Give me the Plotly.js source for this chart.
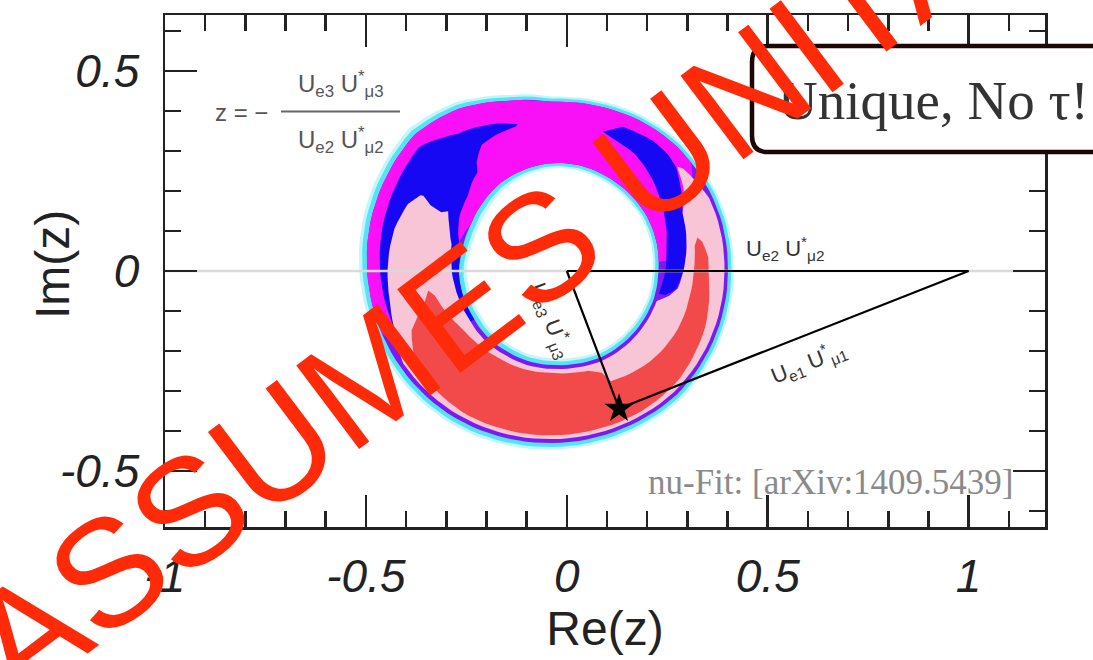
<!DOCTYPE html>
<html>
<head>
<meta charset="utf-8">
<script src="https://cdn.plot.ly/plotly-3.0.1.min.js"></script>
<style>html,body{margin:0;padding:0;background:#fff;}#chart{width:1093px;height:660px;}</style>
</head>
<body>
<div id="chart"></div>
<script>
// ---------------- data ----------------
const xRange = [-1.0, 1.19];
const yRange = [-0.64, 0.64];
const xTickVals = [-1, -0.5, 0, 0.5, 1];
const xTickText = ['-1', '-0.5', '0', '0.5', '1'];
const yTickVals = [-0.5, 0, 0.5];
const yTickText = ['-0.5', '0', '0.5'];

// unitarity triangle: 0 -> 1 -> best fit z -> 0
const triangleRe = [0, 1, 0.13, 0];
const triangleIm = [0, 0, -0.344, 0];
const bestFitRe = [0.13];
const bestFitIm = [-0.344];

// ring (allowed region of z) : centre and inner / outer edge radius every 15 degrees
const ringCenter = [-0.037, 0.0];
const bandAngles = [0,15,30,45,60,75,90,105,120,135,150,165,180,195,210,225,240,255,270,285,300,315,330,345];
const bandOuterR = [0.438,0.44,0.44,0.44,0.435,0.428,0.423,0.44,0.468,0.483,0.475,0.468,0.46,0.453,0.448,0.443,0.438,0.433,0.43,0.43,0.433,0.438,0.438,0.438];
const bandInnerR = [0.265,0.27,0.273,0.273,0.273,0.273,0.27,0.263,0.255,0.243,0.233,0.23,0.232,0.23,0.228,0.23,0.23,0.233,0.235,0.24,0.248,0.253,0.258,0.263];

// coloured regions: angle (deg) and relative position across the band (0 = inner edge, 1 = outer edge)
const glowTheta   = [0, 360, 360, 0];
const glowU       = [1.085, 1.085, -0.085, -0.085];
const haloTheta   = [0, 360, 360, 0];
const haloU       = [1.05, 1.05, -0.05, -0.05];
const edgeTheta   = [0, 360, 360, 0];
const edgeU       = [1.0, 1.0, 0.0, 0.0];
const magentaTheta = [38, 200, 205, 205, 165, 150, 5, 5];
const magentaU     = [1.0, 1.0, 0.92, 0.06, 0.06, 0.0, 0.0, 0.1];
const blueLeftTheta = [103,110,124,137,154,177,200,212, 212,170,150,138,130,127,124.5,119,112,104];
const blueLeftU     = [0.65,0.7,0.74,0.88,0.87,0.86,0.85,0.8, 0.0,0.0,0.14,0.17,0.24,0.26,0.36,0.5,0.56,0.62];
const blueRightTheta = [70,64,52,45,40,30,24,10,0,-8,-12, -12,0,10,24,35,45,55,64];
const blueRightU     = [0.62,0.8,0.84,0.82,0.78,0.6,0.5,0.42,0.36,0.28,0.15, 0.05,0.1,0.12,0.22,0.32,0.42,0.52,0.56];
const pinkTheta = [150,155,165,177,190,200,212,240,270,300,330,360,385,398, 400,392,384,370,360,352,348,344,300,270,240,210,190,178,165,156,150,152,151.5,149.5];
const pinkU     = [0.6,0.68,0.74,0.77,0.8,0.85,0.95,0.95,0.95,0.95,0.95,0.95,0.95,0.85, 0.8,0.68,0.5,0.42,0.36,0.3,0.2,0.05,0.05,0.05,0.05,0.05,0.06,0.08,0.12,0.2,0.27,0.33,0.46,0.57];
const redTheta = [189,195,203,215,240,270,300,320,340,355,365,371,373, 370,360,350,335,320,305,298,296,290,270,240,225,213,200,192];
const redU     = [0.36,0.45,0.68,0.85,0.9,0.9,0.9,0.88,0.82,0.74,0.72,0.66,0.6, 0.54,0.51,0.49,0.48,0.44,0.38,0.35,0.2,0.12,0.1,0.12,0.14,0.17,0.25,0.3];

const colors = {
  glow: '#c4f5fb', halo: '#55e4f4', edge: '#7c1af4', magenta: '#f910f7', blue: '#1608f2',
  pink: '#f7c5d6', red: '#f24a4a', axis: '#222222', mark: '#ff2a08'
};

// ---------------- geometry helpers ----------------
function bandRadius(th, u) {
  const t = ((th % 360) + 360) % 360;
  const i = Math.floor(t / 15) % bandAngles.length;
  const j = (i + 1) % bandAngles.length;
  const f = (t - bandAngles[i]) / 15;
  const rin = bandInnerR[i] * (1 - f) + bandInnerR[j] * f;
  const rout = bandOuterR[i] * (1 - f) + bandOuterR[j] * f;
  return rin + u * (rout - rin);
}
function regionOutline(thArr, uArr) {
  const xs = [], ys = [];
  const n = thArr.length;
  for (let k = 0; k < n; k++) {
    const t0 = thArr[k], u0 = uArr[k];
    const t1 = thArr[(k + 1) % n], u1 = uArr[(k + 1) % n];
    const steps = Math.max(1, Math.ceil(Math.abs(t1 - t0) / 3));
    for (let s = 0; s < steps; s++) {
      const t = t0 + (t1 - t0) * s / steps;
      const u = u0 + (u1 - u0) * s / steps;
      const r = bandRadius(t, u);
      const a = t * Math.PI / 180;
      xs.push(ringCenter[0] + r * Math.cos(a));
      ys.push(ringCenter[1] + r * Math.sin(a));
    }
  }
  xs.push(xs[0]); ys.push(ys[0]);
  return {x: xs, y: ys};
}
function regionTrace(thArr, uArr, color) {
  const o = regionOutline(thArr, uArr);
  return {type: 'scatter', mode: 'lines', x: o.x, y: o.y, fill: 'toself',
          fillcolor: color, line: {width: 0, color: 'rgba(0,0,0,0)'}, hoverinfo: 'skip', showlegend: false};
}

const traces = [
  regionTrace(glowTheta, glowU, colors.glow),
  regionTrace(haloTheta, haloU, colors.halo),
  regionTrace(edgeTheta, edgeU, colors.edge),
  regionTrace(magentaTheta, magentaU, colors.magenta),
  regionTrace(blueLeftTheta, blueLeftU, colors.blue),
  regionTrace(blueRightTheta, blueRightU, colors.blue),
  regionTrace(pinkTheta, pinkU, colors.pink),
  regionTrace(redTheta, redU, colors.red),
  {type: 'scatter', mode: 'lines', x: xRange, y: [0, 0], line: {color: '#d9d9d9', width: 2.5}, hoverinfo: 'skip', showlegend: false},
  {type: 'scatter', mode: 'lines', x: triangleRe, y: triangleIm, line: {color: '#000', width: 2.2}, hoverinfo: 'skip', showlegend: false},
  {type: 'scatter', mode: 'markers', x: bestFitRe, y: bestFitIm, marker: {symbol: 'star', size: 22, color: '#000'}, hoverinfo: 'skip', showlegend: false}
];

// ---------------- layout ----------------
const tickFont = {family: 'Liberation Sans, Arial, sans-serif', size: 46, color: '#222', style: 'italic'};
const titleFont = {family: 'Liberation Sans, Arial, sans-serif', size: 48, color: '#222'};
const minorTicks = {dtick: 0.1, tick0: 0, ticks: 'inside', ticklen: 16, tickwidth: 2.5, tickcolor: colors.axis};

const L = 165, W = 880, T = 15, H = 512;
const px = v => (v - L) / W;          // pixel -> paper x
const py = v => (T + H - v) / H;      // pixel -> paper y
const lab = {family: 'Liberation Sans, Arial, sans-serif', size: 22, color: '#333'};

const rr = 16;
const bx0 = px(752), bx1 = px(1120), byT = py(46), byB = py(152), rx = rr / W, ry = rr / H;
const boxPath = `M ${bx0 + rx},${byT} L ${bx1 - rx},${byT} Q ${bx1},${byT} ${bx1},${byT - ry} L ${bx1},${byB + ry} Q ${bx1},${byB} ${bx1 - rx},${byB} L ${bx0 + rx},${byB} Q ${bx0},${byB} ${bx0},${byB + ry} L ${bx0},${byT - ry} Q ${bx0},${byT} ${bx0 + rx},${byT} Z`;

const layout = {
  width: 1093, height: 660,
  margin: {l: L, r: 1093 - L - W, t: T, b: 660 - T - H, pad: 0},
  paper_bgcolor: '#fff', plot_bgcolor: '#fff', showlegend: false,
  xaxis: {
    range: xRange, tickmode: 'array', tickvals: xTickVals, ticktext: xTickText,
    ticks: 'inside', ticklen: 32, tickwidth: 2.5, tickcolor: colors.axis, minor: minorTicks,
    showline: true, linecolor: colors.axis, linewidth: 2.5, mirror: 'allticks',
    showgrid: false, zeroline: false, tickfont: tickFont, ticklabelstandoff: 7,
    title: {text: 'Re(z)', font: titleFont, standoff: 6}
  },
  yaxis: {
    range: yRange, tickmode: 'array', tickvals: yTickVals, ticktext: yTickText,
    ticks: 'inside', ticklen: 32, tickwidth: 2.5, tickcolor: colors.axis, minor: minorTicks,
    showline: true, linecolor: colors.axis, linewidth: 2.5, mirror: 'allticks',
    showgrid: false, zeroline: false, tickfont: tickFont, ticklabelstandoff: 14
  },
  shapes: [
    {type: 'line', xref: 'paper', yref: 'paper', x0: px(281), x1: px(400), y0: py(111.5), y1: py(111.5), line: {color: '#666', width: 2}},
    {type: 'path', xref: 'paper', yref: 'paper', path: boxPath, fillcolor: '#fff', line: {color: '#1e0606', width: 4.5}, layer: 'above'}
  ],
  annotations: [
    {xref: 'paper', yref: 'paper', x: px(52), y: py(265), xanchor: 'center', yanchor: 'middle', showarrow: false, textangle: -90, text: 'Im(z)', font: titleFont},
    {xref: 'paper', yref: 'paper', x: px(213), y: py(112), xanchor: 'left', yanchor: 'middle', showarrow: false, text: 'z = −', font: {family: lab.family, size: 24, color: '#555'}},
    {xref: 'paper', yref: 'paper', x: px(341), y: py(84), xanchor: 'center', yanchor: 'middle', showarrow: false, text: 'U<sub>e3</sub> U<sup>*</sup><sub>μ3</sub>', font: {family: lab.family, size: 24, color: '#555'}},
    {xref: 'paper', yref: 'paper', x: px(341), y: py(140), xanchor: 'center', yanchor: 'middle', showarrow: false, text: 'U<sub>e2</sub> U<sup>*</sup><sub>μ2</sub>', font: {family: lab.family, size: 24, color: '#555'}},
    {xref: 'x', yref: 'y', x: 0.543, y: 0.0575, showarrow: false, text: 'U<sub>e2</sub> U<sup>*</sup><sub>μ2</sub>', font: lab},
    {xref: 'x', yref: 'y', x: -0.037, y: -0.1225, showarrow: false, textangle: 69, text: 'U<sub>e3</sub> U<sup>*</sup><sub>μ3</sub>', font: lab},
    {xref: 'x', yref: 'y', x: 0.600, y: -0.2275, showarrow: false, textangle: -21.5, text: 'U<sub>e1</sub> U<sup>*</sup><sub>μ1</sub>', font: lab},
    {xref: 'x', yref: 'y', x: 1.118, y: -0.5275, xanchor: 'right', yanchor: 'middle', showarrow: false, text: 'nu-Fit: [arXiv:1409.5439]', font: {family: 'Liberation Serif, Times New Roman, serif', size: 35, color: '#8a8a8a'}},
    {xref: 'paper', yref: 'paper', x: px(776), y: py(100), xanchor: 'left', yanchor: 'middle', showarrow: false, text: 'Unique, No τ!', font: {family: 'Liberation Serif, Times New Roman, serif', size: 55, color: '#333'}},
    {xref: 'paper', yref: 'paper', x: px(616), y: py(189), xanchor: 'center', yanchor: 'middle', showarrow: false, textangle: -37, text: 'ASSUMES UNITARITY', font: {family: 'Liberation Sans, Arial, sans-serif', size: 152, color: colors.mark}}
  ]
};

Plotly.newPlot('chart', traces, layout, {staticPlot: true, displayModeBar: false});
</script>
</body>
</html>
